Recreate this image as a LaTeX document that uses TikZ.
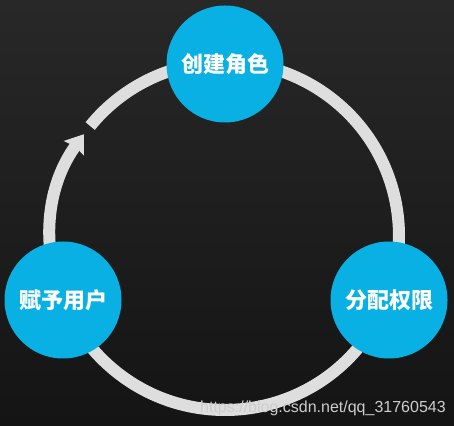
\documentclass[tikz,border=0pt]{standalone}
\usepackage{fontspec}
\newfontfamily\cjk{Noto Sans CJK SC}
\newfontfamily\wmfont{Liberation Sans}
\usetikzlibrary{arrows.meta}
\definecolor{bgtop}{RGB}{40,40,41}
\definecolor{bgbot}{RGB}{20,20,21}
\definecolor{rolefill}{RGB}{8,176,228}
\definecolor{ringcol}{RGB}{222,222,222}
\definecolor{wmcol}{RGB}{205,205,205}
\tikzset{
  rolenode/.style={circle, fill=rolefill, minimum size=117pt, inner sep=0pt,
    text=white, font=\cjk\bfseries\fontsize{22}{26}\selectfont},
  ringline/.style={draw=ringcol, line width=12pt, line cap=butt,
    -{Stealth[length=17pt,width=24pt,inset=2pt]}},
  wmtext/.style={text=wmcol, font=\wmfont\fontsize{16}{19}\selectfont, inner sep=0pt}
}
\begin{document}
\begin{tikzpicture}[x=1pt,y=1pt]
\path[use as bounding box, top color=bgtop, bottom color=bgbot] (0,0) rectangle (454,425);
\coordinate (O) at (225,189);
\draw[ringline] (O) ++(140.8:174) arc[start angle=140.8, end angle=-215.8, radius=174];
\node[rolenode] (create) at (225,361) {创建角色};
\node[rolenode] (assign) at (389,125) {分配权限};
\node[rolenode] (grant) at (63,125) {赋予用户};
\node[wmtext, anchor=base west] (url) at (200,13) {https://blog.csdn.net/qq\_31760543};
\end{tikzpicture}
\end{document}
